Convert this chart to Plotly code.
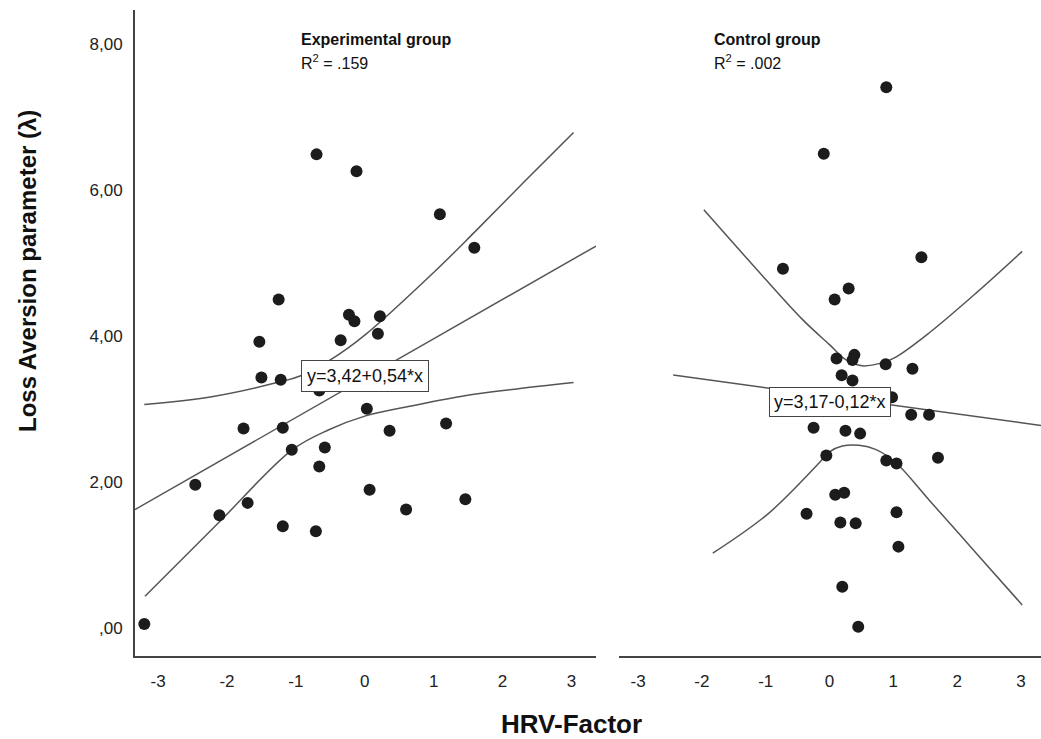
import plotly.graph_objects as go

# ---- Experimental group: HRV-Factor vs loss aversion ----
exp_x = [-3.20, -2.46, -2.11, -1.70, -1.76, -1.53, -1.50, -1.25, -1.22, -1.19,
         -1.19, -1.06, -0.70, -0.71, -0.66, -0.66, -0.58, -0.12, -0.35, -0.23,
         -0.15, 0.19, 0.22, 0.03, 0.07, 0.36, 1.09, 1.18, 0.60, 1.46, 1.59]
exp_y = [0.05, 1.96, 1.54, 1.71, 2.73, 3.92, 3.43, 4.50, 3.40, 2.74,
         1.39, 2.44, 6.49, 1.32, 3.25, 2.21, 2.47, 6.26, 3.94, 4.29,
         4.20, 4.03, 4.27, 3.00, 1.89, 2.70, 5.67, 2.80, 1.62, 1.76, 5.21]

# confidence band of the mean (upper / lower)
exp_ci_up_x = [-3.20, -2.20, -1.23, -0.94, -0.50, 0.00, 1.00, 1.59, 2.30, 3.03]
exp_ci_up_y = [3.06, 3.17, 3.37, 3.45, 3.67, 4.01, 4.87, 5.42, 6.10, 6.79]
exp_ci_lo_x = [-3.19, -2.13, -1.05, -0.53, 0.00, 0.73, 1.45, 2.18, 3.03]
exp_ci_lo_y = [0.43, 1.43, 2.44, 2.71, 2.90, 3.05, 3.18, 3.27, 3.36]

exp_intercept, exp_slope = 3.42, 0.54
exp_fit_x = [-3.335, 3.356]

# ---- Control group ----
ctl_x = [-0.09, -0.73, 0.89, 1.44, 0.30, 0.08, 0.11, 0.39, 0.36, 0.88,
         1.30, 0.19, 0.36, 0.98, 1.28, 1.56, 0.25, 0.48, 0.89, 1.05,
         1.70, 0.09, 0.23, 0.17, 0.41, 1.05, 1.08, 0.20, 0.45, -0.25,
         -0.05, -0.36]
ctl_y = [6.50, 4.92, 7.41, 5.08, 4.65, 4.50, 3.69, 3.74, 3.67, 3.61,
         3.55, 3.46, 3.39, 3.16, 2.92, 2.92, 2.70, 2.66, 2.29, 2.25,
         2.33, 1.82, 1.85, 1.44, 1.43, 1.58, 1.11, 0.56, 0.01, 2.74,
         2.36, 1.56]

ctl_ci_up_x = [-1.97, -1.21, -0.43, 0.00, 0.26, 0.51, 0.82, 1.04, 1.56, 2.30, 3.02]
ctl_ci_up_y = [5.73, 4.98, 4.23, 3.88, 3.67, 3.59, 3.63, 3.71, 4.04, 4.59, 5.16]
ctl_ci_lo_x = [-1.83, -0.95, -0.16, 0.00, 0.20, 0.46, 0.73, 1.04, 1.56, 2.30, 3.02]
ctl_ci_lo_y = [1.02, 1.57, 2.26, 2.41, 2.49, 2.50, 2.44, 2.26, 1.75, 1.02, 0.31]

ctl_intercept, ctl_slope = 3.17, -0.12
ctl_fit_x = [-2.45, 3.315]

y_ticks = [0, 2, 4, 6, 8]
y_labels = [",00", "2,00", "4,00", "6,00", "8,00"]
x_ticks = [-3, -2, -1, 0, 1, 2, 3]
x_labels = ["-3", "-2", "-1", "0", "1", "2", "3"]

FONT = "Liberation Sans, Arial, sans-serif"
DOT = "#1c1c1c"
LINE = "#555555"
AXIS = "#444444"
W, H = 1041, 739

fig = go.Figure()


def add_panel(xs, ys, up_x, up_y, lo_x, lo_y, fit_x, a, b, xa, ya):
    line = dict(color=LINE, width=1.5)
    fig.add_trace(go.Scatter(x=up_x, y=up_y, mode="lines", line=dict(shape="spline", smoothing=1.0, **line),
                             xaxis=xa, yaxis=ya, hoverinfo="skip"))
    fig.add_trace(go.Scatter(x=lo_x, y=lo_y, mode="lines", line=dict(shape="spline", smoothing=1.0, **line),
                             xaxis=xa, yaxis=ya, hoverinfo="skip"))
    fig.add_trace(go.Scatter(x=fit_x, y=[a + b * v for v in fit_x], mode="lines", line=line,
                             xaxis=xa, yaxis=ya, hoverinfo="skip"))
    fig.add_trace(go.Scatter(x=xs, y=ys, mode="markers",
                             marker=dict(size=12, color=DOT, line=dict(width=0)),
                             xaxis=xa, yaxis=ya))


add_panel(exp_x, exp_y, exp_ci_up_x, exp_ci_up_y, exp_ci_lo_x, exp_ci_lo_y,
          exp_fit_x, exp_intercept, exp_slope, "x", "y")
add_panel(ctl_x, ctl_y, ctl_ci_up_x, ctl_ci_up_y, ctl_ci_lo_x, ctl_ci_lo_y,
          ctl_fit_x, ctl_intercept, ctl_slope, "x2", "y2")

y_dom = [(H - 656) / H, (H - 10) / H]
tickfont = dict(family=FONT, size=17, color="#222222")

common_x = dict(showline=True, linecolor=AXIS, linewidth=2, showgrid=False, zeroline=False,
                ticks="", tickvals=x_ticks, ticktext=x_labels, tickfont=tickfont,
                ticklabelstandoff=9, fixedrange=True)

fig.update_layout(
    width=W, height=H, autosize=False,
    margin=dict(l=0, r=0, t=0, b=0),
    paper_bgcolor="white", plot_bgcolor="white",
    showlegend=False,
    xaxis=dict(domain=[135 / W, 596 / W], range=[-3.335, 3.356], anchor="y", **common_x),
    xaxis2=dict(domain=[619 / W, 1.0], range=[-3.30, 3.315], anchor="y2", **common_x),
    yaxis=dict(domain=y_dom, range=[-0.39, 8.47], anchor="x", showline=True, linecolor=AXIS,
               linewidth=2, showgrid=False, zeroline=False, ticks="", tickvals=y_ticks,
               ticktext=y_labels, tickfont=tickfont, ticklabelstandoff=7),
    yaxis2=dict(domain=y_dom, range=[-0.39, 8.47], anchor="x2", visible=False),
)

eq_font = dict(family=FONT, size=18, color="#111111")
annotations = [
    dict(xref="x", yref="y", x=0.0, y=3.45, text="y=3,42+0,54*x", showarrow=False,
         font=eq_font, bgcolor="white", bordercolor="#444444", borderwidth=1, borderpad=5),
    dict(xref="x2", yref="y2", x=0.0, y=3.09, text="y=3,17-0,12*x", showarrow=False,
         font=eq_font, bgcolor="white", bordercolor="#444444", borderwidth=1, borderpad=4),
    dict(xref="paper", yref="paper", x=299 / W, y=(H - 40) / H, xanchor="left", yanchor="middle",
         text="<b>Experimental group</b>", showarrow=False,
         font=dict(family=FONT, size=16, color="#111111")),
    dict(xref="paper", yref="paper", x=299 / W, y=(H - 62) / H, xanchor="left", yanchor="middle",
         text="R<sup>2</sup> = .159", showarrow=False,
         font=dict(family=FONT, size=16, color="#111111")),
    dict(xref="paper", yref="paper", x=712 / W, y=(H - 40) / H, xanchor="left", yanchor="middle",
         text="<b>Control group</b>", showarrow=False,
         font=dict(family=FONT, size=16, color="#111111")),
    dict(xref="paper", yref="paper", x=712 / W, y=(H - 62) / H, xanchor="left", yanchor="middle",
         text="R<sup>2</sup> = .002", showarrow=False,
         font=dict(family=FONT, size=16, color="#111111")),
    dict(xref="paper", yref="paper", x=27 / W, y=(H - 271) / H, xanchor="center", yanchor="middle",
         text="<b>Loss Aversion parameter (λ)</b>", textangle=-90, showarrow=False,
         font=dict(family=FONT, size=24, color="#111111")),
    dict(xref="paper", yref="paper", x=571 / W, y=(H - 724) / H, xanchor="center", yanchor="middle",
         text="<b>HRV-Factor</b>", showarrow=False,
         font=dict(family=FONT, size=26, color="#111111")),
]
fig.update_layout(annotations=annotations)

fig.write_html("out.html")
